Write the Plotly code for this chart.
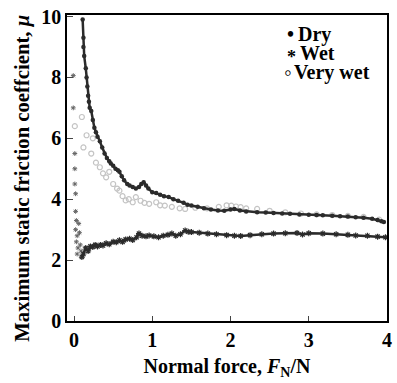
import plotly.graph_objects as go

# Dry (upper dark band)
dry_x = [0.11, 0.12, 0.12, 0.13, 0.15, 0.16, 0.17, 0.18, 0.19, 0.20, 0.22, 0.24, 0.26, 0.28, 0.30,
         0.33, 0.36, 0.39, 0.42, 0.45, 0.47, 0.50, 0.53, 0.56, 0.58, 0.61, 0.64, 0.68, 0.71, 0.75,
         0.79, 0.83, 0.86, 0.89, 0.92, 0.95, 1.00, 1.05, 1.10, 1.15, 1.21, 1.27, 1.33, 1.40, 1.45,
         1.50, 1.58, 1.66, 1.75, 1.84, 1.92, 2.00, 2.05, 2.12, 2.20, 2.34, 2.45, 2.55, 2.66, 2.76,
         2.88, 3.00, 3.10, 3.18, 3.30, 3.40, 3.50, 3.60, 3.70, 3.81, 3.88, 3.93, 3.96]
dry_y = [9.9, 9.3, 9.0, 8.7, 8.3, 8.0, 7.7, 7.4, 7.2, 7.0, 6.9, 6.6, 6.35, 6.2, 6.05,
         5.9, 5.7, 5.5, 5.35, 5.25, 5.17, 5.1, 5.0, 4.95, 4.9, 4.75, 4.62, 4.5, 4.45, 4.4,
         4.35, 4.4, 4.5, 4.56, 4.45, 4.35, 4.23, 4.2, 4.15, 4.1, 4.07, 4.0, 3.95, 3.88, 3.82,
         3.79, 3.75, 3.7, 3.66, 3.63, 3.62, 3.66, 3.68, 3.63, 3.6, 3.57, 3.56, 3.55, 3.53, 3.52,
         3.5, 3.49, 3.48, 3.47, 3.46, 3.44, 3.43, 3.41, 3.39, 3.36, 3.32, 3.28, 3.25]

# Wet (lower dark band) and its scattered start
wet_x = [0.10, 0.12, 0.15, 0.18, 0.21, 0.24, 0.27, 0.30, 0.34, 0.37, 0.41, 0.45, 0.50, 0.54,
         0.58, 0.62, 0.66, 0.71, 0.75, 0.80, 0.83, 0.87, 0.92, 0.96, 1.02, 1.08, 1.14, 1.20,
         1.25, 1.30, 1.36, 1.42, 1.46, 1.50, 1.60, 1.71, 1.82, 1.95, 2.05, 2.13, 2.25, 2.40,
         2.55, 2.70, 2.85, 2.92, 3.00, 3.18, 3.35, 3.50, 3.60, 3.75, 3.88, 3.98]
wet_y = [2.1, 2.2, 2.4, 2.3, 2.45, 2.43, 2.5, 2.45, 2.5, 2.48, 2.55, 2.52, 2.6, 2.59,
         2.65, 2.6, 2.68, 2.7, 2.66, 2.75, 2.87, 2.8, 2.78, 2.81, 2.78, 2.75, 2.8, 2.83,
         2.87, 2.8, 2.85, 2.97, 2.93, 2.92, 2.9, 2.87, 2.85, 2.82, 2.8, 2.79, 2.82, 2.85,
         2.87, 2.88, 2.89, 2.84, 2.88, 2.87, 2.85, 2.83, 2.81, 2.8, 2.77, 2.75]
wet_scatter_x = [-0.01, -0.01, 0.01, 0.01, 0.01, 0.02, 0.02, 0.03, 0.02, 0.04, 0.03, 0.05,
                 0.04, 0.06, 0.07, 0.08, 0.09]
wet_scatter_y = [8.06, 7.0, 5.5, 5.0, 4.5, 4.18, 3.6, 3.3, 3.0, 2.8, 2.6, 2.4,
                 2.2, 3.2, 2.9, 2.5, 2.3]

# Very wet (light grey circles)
vwet_x = [0.01, 0.10, 0.12, 0.16, 0.22, 0.24, 0.28, 0.33, 0.37, 0.41, 0.45, 0.50, 0.55, 0.58,
          0.62, 0.66, 0.70, 0.75, 0.79, 0.85, 0.90, 0.96, 1.05, 1.10, 1.16, 1.25, 1.35, 1.42,
          1.55, 1.70, 1.85, 1.95, 2.01, 2.07, 2.13, 2.20, 2.34, 2.50, 2.70, 2.90, 3.10, 3.30,
          3.50, 3.70, 3.90]
vwet_y = [6.4, 6.7, 5.7, 6.1, 5.5, 6.0, 5.2, 5.05, 4.85, 4.72, 4.9, 4.5, 4.35, 4.28,
          4.1, 3.96, 4.0, 3.9, 4.07, 3.95, 3.88, 3.85, 3.9, 3.8, 3.79, 3.75, 3.7, 3.68,
          3.72, 3.7, 3.75, 3.8, 3.79, 3.76, 3.74, 3.7, 3.68, 3.62, 3.57, 3.53, 3.5, 3.48,
          3.45, 3.42, 3.33]

series_names = ["Dry", "Wet", "Very wet"]
legend_glyphs = ["•", "*", "◦"]
x_ticks = [0, 1, 2, 3, 4]
y_ticks = [0, 2, 4, 6, 8, 10]

FONT = "Liberation Serif"
DARK = "#2b2b2b"
GREY = "#c4c4c4"

fig = go.Figure()
fig.add_trace(go.Scatter(x=vwet_x, y=vwet_y, mode="markers", name=series_names[2], showlegend=False,
                         marker=dict(symbol="circle-open", size=5, color=GREY, line=dict(width=1.2))))
fig.add_trace(go.Scatter(x=wet_scatter_x, y=wet_scatter_y, mode="markers", name=series_names[1], showlegend=False,
                         marker=dict(symbol="asterisk-open", size=4, color="#666", line=dict(width=1, color="#666"))))
fig.add_trace(go.Scatter(x=wet_x, y=wet_y, mode="lines+markers", name=series_names[1], showlegend=False,
                         line=dict(color=DARK, width=2.5),
                         marker=dict(symbol="asterisk-open", size=5, color=DARK, line=dict(width=1.2, color=DARK))))
fig.add_trace(go.Scatter(x=dry_x, y=dry_y, mode="lines+markers", name=series_names[0], showlegend=False,
                         line=dict(color=DARK, width=2.5),
                         marker=dict(symbol="circle", size=4.5, color=DARK)))

# plot area in px: x 67..392, y 15..321
def px_x(p):
    return (p - 67) / 325.0

def px_y(p):
    return (321 - p) / 306.0

annotations = []
row_y = [34, 53, 72]
text_x = [300, 302, 296]
glyph_x = [294, 295.5, 291]
glyph_y_shift = [0, 4, 0]
glyph_sizes = [20, 18, 22]
for name, g, ry, tx, gx, gs, gys in zip(series_names, legend_glyphs, row_y, text_x, glyph_x,
                                        glyph_sizes, glyph_y_shift):
    annotations.append(dict(text=g, x=px_x(gx), y=px_y(ry + gys), xref="paper", yref="paper",
                            xanchor="center", yanchor="middle", showarrow=False,
                            font=dict(family=FONT, size=gs, weight="bold", color="black")))
    annotations.append(dict(text=name, x=px_x(tx), y=px_y(ry), xref="paper", yref="paper",
                            xanchor="left", yanchor="middle", showarrow=False,
                            font=dict(family=FONT, size=20, weight="bold", color="black")))

annotations.append(dict(text="Maximum static friction coeffcient, <i>μ</i>", textangle=-90,
                        x=px_x(21), y=px_y(178), xref="paper", yref="paper",
                        xanchor="center", yanchor="middle", showarrow=False,
                        font=dict(family=FONT, size=20.7, weight="bold", color="black")))

fig.update_layout(
    width=397, height=383,
    margin=dict(l=67, r=5, t=15, b=62),
    paper_bgcolor="white", plot_bgcolor="white",
    font=dict(family=FONT, size=18, color="black", weight="bold"),
    showlegend=False,
    annotations=annotations,
    xaxis=dict(range=[-0.09, 4.0], tickvals=x_ticks, ticks="inside", ticklen=5, tickwidth=1.2,
               showline=True, linecolor="black", linewidth=1.5, mirror=True, showgrid=False,
               zeroline=False, tickfont=dict(family=FONT, size=20, weight="bold"),
               title=dict(text="Normal force, <i>F</i><sub>N</sub>/N", standoff=9,
                          font=dict(family=FONT, size=20, weight="bold"))),
    yaxis=dict(range=[0, 10.05], tickvals=y_ticks, ticks="inside", ticklen=6, tickwidth=1.2,
               showline=True, linecolor="black", linewidth=1.5, mirror=True, showgrid=False,
               zeroline=False, tickfont=dict(family=FONT, size=20, weight="bold")),
)

fig.write_html("out.html")
